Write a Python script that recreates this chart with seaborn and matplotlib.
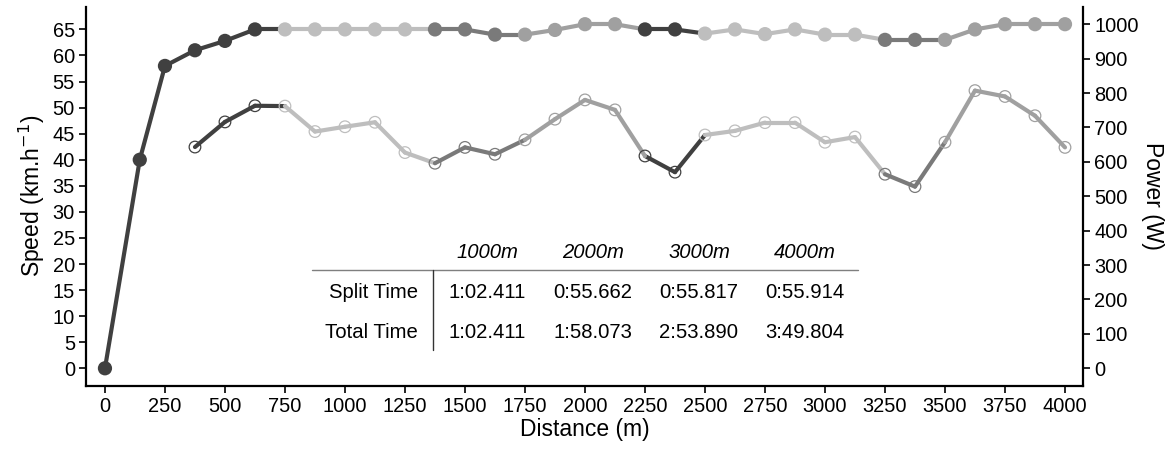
import matplotlib
matplotlib.use("Agg")
import matplotlib.pyplot as plt
import seaborn as sns
import pandas as pd

# ---------------- data ----------------
speed_dist = [0, 145, 250, 375, 500, 625, 750, 875, 1000, 1125, 1250, 1375, 1500,
              1625, 1750, 1875, 2000, 2125, 2250, 2375, 2500, 2625, 2750, 2875,
              3000, 3125, 3250, 3375, 3500, 3625, 3750, 3875, 4000]
speed_kmh = [0, 40, 58, 61, 62.8, 65, 65, 65, 65, 65, 65, 65, 65,
             64, 64, 64.9, 66, 66, 65, 65, 64.2, 65, 64.1, 65,
             64, 64, 63, 63, 63, 65, 66, 66, 66]
speed_phase = ["A", "A", "A", "A", "A", "A", "B", "B", "B", "B", "B", "C", "C",
               "C", "D", "D", "D", "D", "A", "A", "B", "B", "B", "B",
               "B", "B", "C", "C", "D", "D", "D", "D", "D"]

power_dist = [375, 500, 625, 750, 875, 1000, 1125, 1250, 1375, 1500, 1625, 1750,
              1875, 2000, 2125, 2250, 2375, 2500, 2625, 2750, 2875, 3000, 3125,
              3250, 3375, 3500, 3625, 3750, 3875, 4000]
power_w = [643, 716, 763, 762, 688, 702, 715, 627, 596, 642, 622, 664,
           724, 780, 751, 617, 570, 678, 690, 714, 714, 657, 672,
           564, 528, 657, 807, 790, 734, 642]
power_phase = ["A", "A", "A", "B", "B", "B", "B", "B", "C", "C", "C", "D",
               "D", "D", "D", "A", "A", "B", "B", "B", "B", "B", "B",
               "C", "C", "D", "D", "D", "D", "D"]

table_cols = ["1000m", "2000m", "3000m", "4000m"]
table_rows = ["Split Time", "Total Time"]
split_times = ["1:02.411", "0:55.662", "0:55.817", "0:55.914"]
total_times = ["1:02.411", "1:58.073", "2:53.890", "3:49.804"]

palette = {"A": "#404040", "B": "#bebebe", "C": "#7a7a7a", "D": "#a0a0a0"}

# ---------------- style ----------------
sns.set_style("ticks")
plt.rcParams["font.family"] = ["Liberation Sans", "DejaVu Sans"]
plt.rcParams["text.color"] = "black"
plt.rcParams["axes.labelcolor"] = "black"

W, H = 1176, 450
fig = plt.figure(figsize=(W / 100, H / 100), dpi=100)
ax = fig.add_axes([86 / W, 1 - 385.5 / H, (1083 - 86) / W, (385.5 - 7) / H])
ax2 = ax.twinx()


def segments(xs, ys, gs):
    rows = []
    for i in range(len(xs) - 1):
        rows.append({"seg": i, "x": xs[i], "y": ys[i], "g": gs[i]})
        rows.append({"seg": i, "x": xs[i + 1], "y": ys[i + 1], "g": gs[i]})
    return pd.DataFrame(rows)


speed_df = pd.DataFrame({"x": speed_dist, "y": speed_kmh, "g": speed_phase})
power_df = pd.DataFrame({"x": power_dist, "y": power_w, "g": power_phase})

# speed
sns.lineplot(data=segments(speed_dist, speed_kmh, speed_phase), x="x", y="y",
             hue="g", units="seg", estimator=None, palette=palette, lw=3.0,
             solid_capstyle="round", legend=False, ax=ax, sort=False)
sns.scatterplot(data=speed_df, x="x", y="y", hue="g", palette=palette, s=105,
                linewidth=0, legend=False, ax=ax, zorder=3)

# power
sns.lineplot(data=segments(power_dist, power_w, power_phase), x="x", y="y",
             hue="g", units="seg", estimator=None, palette=palette, lw=3.0,
             solid_capstyle="round", legend=False, ax=ax2, sort=False)
sns.scatterplot(data=power_df, x="x", y="y", hue="g", palette=palette, s=70,
                linewidth=0.9, legend=False, ax=ax2, zorder=3)
coll = ax2.collections[-1]
fcs = coll.get_facecolors()
coll.set_edgecolors(fcs)
coll.set_facecolors("none")

# axes
ax.set_xlim(-79, 4075)
ax.set_ylim(-3.3, 69.3)
ax2.set_ylim(-50, 1050)
ax.set_xticks(range(0, 4001, 250))
ax.set_yticks(range(0, 66, 5))
ax2.set_yticks(range(0, 1001, 100))

for a in (ax, ax2):
    a.tick_params(labelsize=14.4, length=5, width=1.2, color="black",
                  labelcolor="black", pad=3)
    for sp in a.spines.values():
        sp.set_linewidth(1.6)
        sp.set_color("black")
    a.spines["top"].set_visible(False)
ax.spines["right"].set_visible(False)
ax2.spines["left"].set_visible(False)
ax2.spines["bottom"].set_visible(False)
ax2.spines["right"].set_visible(True)

ax.set_xlabel("Distance (m)", fontsize=16.5, labelpad=2, color="black")
ax.set_ylabel("Speed (km.h$^{-1}$)", fontsize=16.5, labelpad=4, color="black")
ax2.set_ylabel("Power (W)", fontsize=16.5, rotation=270, labelpad=18,
               color="black")

# table
def fx(px):
    return px / W


def fy(py):
    return 1 - py / H


col_x = [487, 593, 699, 805]
tkw = dict(fontsize=14.6, color="black", va="center")
for cx, hdr in zip(col_x, table_cols):
    fig.text(fx(cx), fy(252), hdr, ha="center", style="italic", **tkw)
for cx, v in zip(col_x, split_times):
    fig.text(fx(cx), fy(292), v, ha="center", **tkw)
for cx, v in zip(col_x, total_times):
    fig.text(fx(cx), fy(332), v, ha="center", **tkw)
fig.text(fx(418), fy(292), table_rows[0], ha="right", **tkw)
fig.text(fx(418), fy(332), table_rows[1], ha="right", **tkw)
fig.add_artist(plt.Line2D([fx(312), fx(858)], [fy(270), fy(270)],
                          color="#7f7f7f", lw=1.0))
fig.add_artist(plt.Line2D([fx(433), fx(433)], [fy(270), fy(350)],
                          color="#333333", lw=1.0))

fig.savefig("out.png", dpi=100)
